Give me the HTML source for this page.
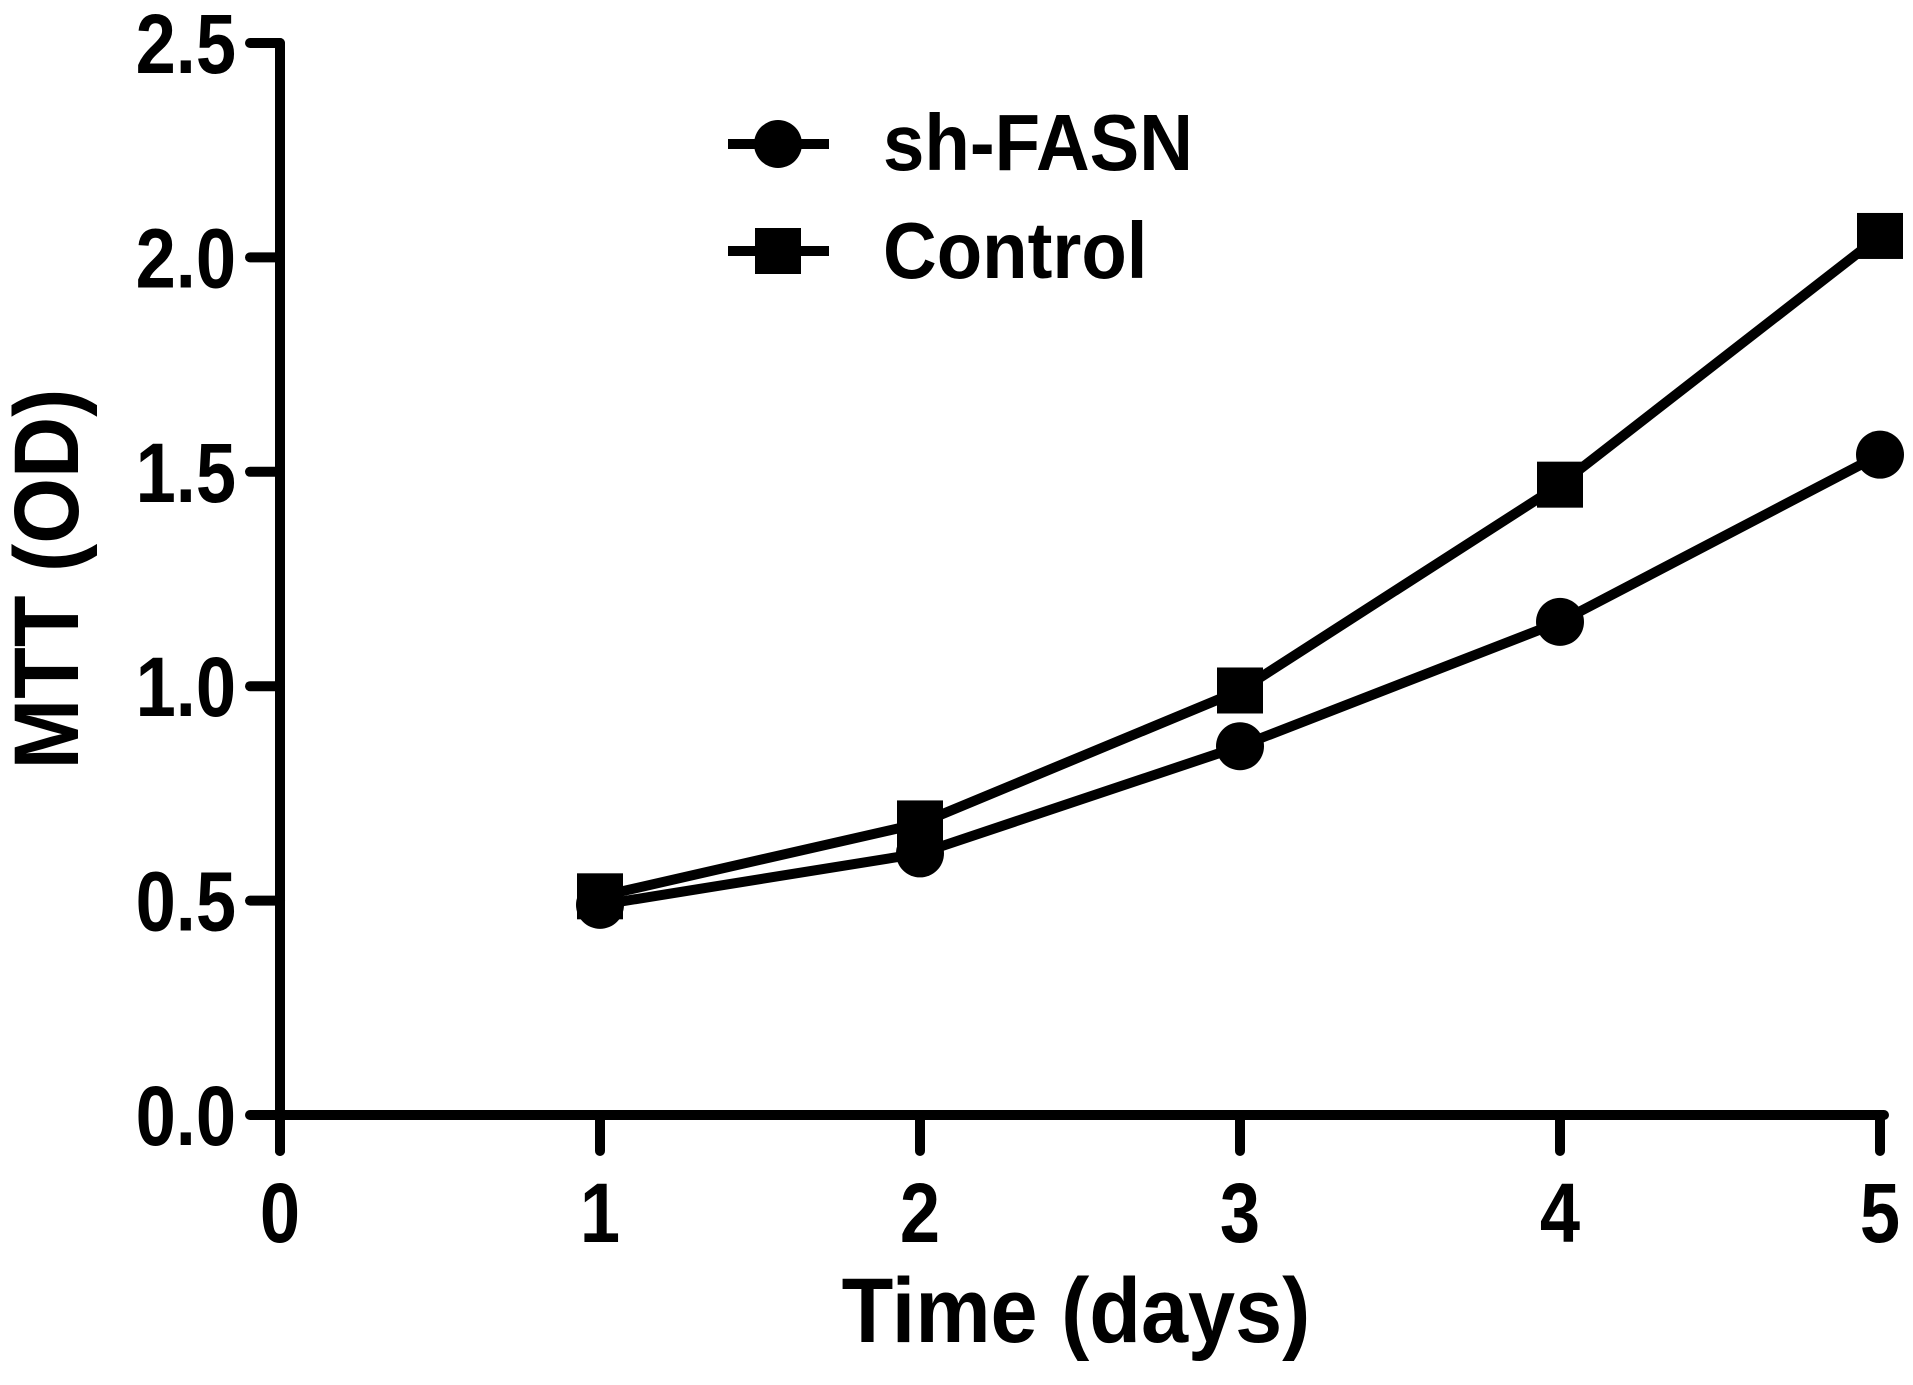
<!DOCTYPE html>
<html><head><meta charset="utf-8"><style>
html,body{margin:0;padding:0;background:#fff;}
svg text{font-family:"Liberation Sans",Arial,sans-serif;font-weight:bold;fill:#000;}
</style></head><body>
<svg id="chart" width="1913" height="1380" viewBox="0 0 1913 1380" xmlns="http://www.w3.org/2000/svg"></svg>
<script>
const days = [1, 2, 3, 4, 5];
const shFasn = [0.49, 0.61, 0.86, 1.15, 1.54];
const control = [0.51, 0.68, 0.99, 1.47, 2.05];
const xTicks = [0, 1, 2, 3, 4, 5];
const yTicks = ["0.0", "0.5", "1.0", "1.5", "2.0", "2.5"];

const NS = "http://www.w3.org/2000/svg";
const svg = document.getElementById("chart");
const X0 = 280, X1 = 1880, Y0 = 1115, Y1 = 43;
function sx(v){ return X0 + (v - 0) / 5 * (X1 - X0); }
function sy(v){ return Y0 - (v - 0) / 2.5 * (Y0 - Y1); }
function mk(tag, attrs){ const e = document.createElementNS(NS, tag); for (const k in attrs) e.setAttribute(k, attrs[k]); svg.appendChild(e); return e; }

let a = mk("line", {x1:X0, y1:Y0, x2:X1+4, y2:Y0, stroke:"#000", "stroke-width":10, "stroke-linecap":"round"});


a = mk("line", {x1:X0, y1:Y1, x2:X0, y2:Y0+36, stroke:"#000", "stroke-width":10, "stroke-linecap":"round"});



xTicks.forEach(function(t){
  const x = sx(t);
  const l = mk("line", {x1:x, y1:Y0, x2:x, y2:Y0+36, stroke:"#000", "stroke-width":10, "stroke-linecap":"round"});
  
  
  const tx = mk("text", {x:0, y:0, "text-anchor":"middle", "font-size":84, transform:"translate("+x+",1242) scale(0.86,1)"});
  tx.textContent = t;
  
  
});
yTicks.forEach(function(t){
  const y = sy(parseFloat(t));
  const l = mk("line", {x1:X0-30, y1:y, x2:X0, y2:y, stroke:"#000", "stroke-width":10, "stroke-linecap":"round"});
  
  
  const tx = mk("text", {x:0, y:0, "text-anchor":"end", "font-size":84, transform:"translate("+(X0-44)+","+(y+30)+") scale(0.86,1)"});
  tx.textContent = t;
  
  
});

function series(vals, name){
  const pts = days.map(function(d,i){ return sx(d)+","+sy(vals[i]); }).join(" ");
  const p = mk("polyline", {points:pts, fill:"none", stroke:"#000", "stroke-width":10, "stroke-linejoin":"round"});
  
  
}
series(control, "control");
series(shFasn, "sh-fasn");
days.forEach(function(d,i){
  const c = mk("circle", {cx:sx(d), cy:sy(shFasn[i]), r:24, fill:"#000"});
  
  
});
days.forEach(function(d,i){
  const r = mk("rect", {x:sx(d)-23, y:sy(control[i])-23, width:46, height:46, fill:"#000"});
  
  
});

let g = mk("line", {x1:728, y1:144, x2:829, y2:144, stroke:"#000", "stroke-width":10});


g = mk("circle", {cx:778, cy:144, r:24, fill:"#000"});


g = mk("text", {x:0, y:0, "font-size":80, transform:"translate(883,170) scale(0.93,1)"});
g.textContent = "sh-FASN";


g = mk("line", {x1:728, y1:251, x2:829, y2:251, stroke:"#000", "stroke-width":10});


g = mk("rect", {x:755, y:228, width:46, height:46, fill:"#000"});


g = mk("text", {x:0, y:0, "font-size":80, transform:"translate(883,278) scale(0.93,1)"});
g.textContent = "Control";



g = mk("text", {x:0, y:0, "text-anchor":"middle", "font-size":92, transform:"translate(1076,1342) scale(0.92,1)"});
g.textContent = "Time (days)";


g = mk("text", {x:0, y:0, "text-anchor":"middle", "font-size":92, transform:"translate(78,579) rotate(-90) scale(0.92,1)"});
g.textContent = "MTT (OD)";


</script>
</body></html>
